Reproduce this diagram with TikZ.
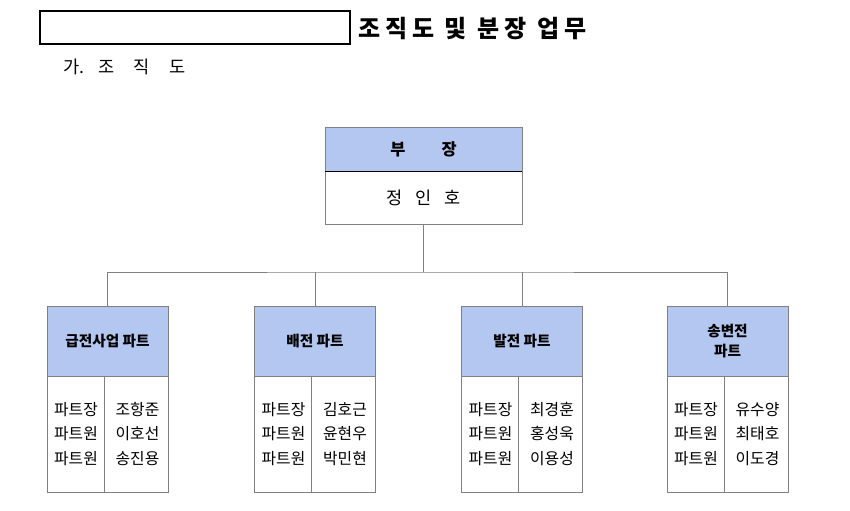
\documentclass[tikz,border=0pt]{standalone}
\usepackage{fontspec}
\setmainfont{Noto Sans CJK KR}
\newfontfamily\krwide[LetterSpace=20]{Noto Sans CJK KR}
\usepackage{tikz}
\usetikzlibrary{positioning,calc}
\usepackage{xcolor}
\definecolor{partblue}{RGB}{180,199,240}
\definecolor{edgegray}{RGB}{128,128,128}

\begin{document}
\begin{tikzpicture}[x=0.03cm,y=-0.03cm,
  hdr/.style={rectangle,draw=edgegray,fill=partblue,inner sep=0pt,
              minimum width=3.63cm,minimum height=2.1cm,align=center,
              font=\fontsize{12.5}{17}\selectfont\bfseries},
  body/.style={rectangle,draw=edgegray,fill=white,inner sep=0pt,
               minimum width=3.63cm,minimum height=3.48cm},
  names/.style={inner sep=0pt,align=center,font=\fontsize{13.5}{20.8}\selectfont},
  link/.style={draw=edgegray,line width=0.6pt}
]
\useasboundingbox (0,0) rectangle (850,511);
% title
\node[draw=black,line width=1.3pt,minimum width=9.3cm,minimum height=0.99cm,inner sep=0pt]
  (blank) at (195,27.5) {};
\node[anchor=west,inner sep=0pt,font=\fontsize{20.5}{24}\krwide\bfseries]
  (title) at (358,29) {조직도\hspace{0.45em}및\hspace{0.45em}분장\hspace{0.45em}업무};
\node[anchor=west,inner sep=0pt,font=\fontsize{15}{18}\selectfont]
  (sub) at (63,67) {가.\hspace{0.8em}조\hspace{1.1em}직\hspace{1.1em}도};
% head
\node[hdr,minimum width=5.91cm,minimum height=1.32cm,draw=edgegray,
      font=\fontsize{14}{16}\selectfont\bfseries] (chief) at (423.5,149) {부\hspace{2.2em}장};
\node[body,minimum width=5.91cm,minimum height=1.59cm,font=\fontsize{15}{18}\selectfont]
  (chiefname) at (423.5,197.5) {정\hspace{0.75em}인\hspace{0.75em}호};
\draw[black,line width=0.8pt] (chief.south west) -- (chief.south east);
% parts
\node[hdr] (p1) at (107.5,341) {급전사업 파트};
\node[body] (b1) at (107.5,434) {};
\draw[link] (104,376) -- (104,492);
\node[names] (r1) at (76,434) {파트장\\파트원\\파트원};
\node[names] (n1) at (137.5,434) {조항준\\이호선\\송진용};

\node[hdr] (p2) at (315,341) {배전 파트};
\node[body] (b2) at (315,434) {};
\draw[link] (311,376) -- (311,492);
\node[names] (r2) at (283.5,434) {파트장\\파트원\\파트원};
\node[names] (n2) at (345,434) {김호근\\윤현우\\박민현};

\node[hdr] (p3) at (522,341) {발전 파트};
\node[body] (b3) at (522,434) {};
\draw[link] (518,376) -- (518,492);
\node[names] (r3) at (490.5,434) {파트장\\파트원\\파트원};
\node[names] (n3) at (552,434) {최경훈\\홍성욱\\이용성};

\node[hdr] (p4) at (727.5,341) {송변전\\파트};
\node[body] (b4) at (727.5,434) {};
\draw[link] (724,376) -- (724,492);
\node[names] (r4) at (696,434) {파트장\\파트원\\파트원};
\node[names] (n4) at (757.5,434) {유수양\\최태호\\이도경};
% connectors
\coordinate (jn) at (423.5,272);
\draw[link] (chiefname.south) -- (jn);
\draw[link] (p1.north) |- (jn) -| (p4.north);
\draw[link] (p2.north) -- (p2.north |- jn);
\draw[link] (p3.north) -- (p3.north |- jn);
\end{tikzpicture}
\end{document}
